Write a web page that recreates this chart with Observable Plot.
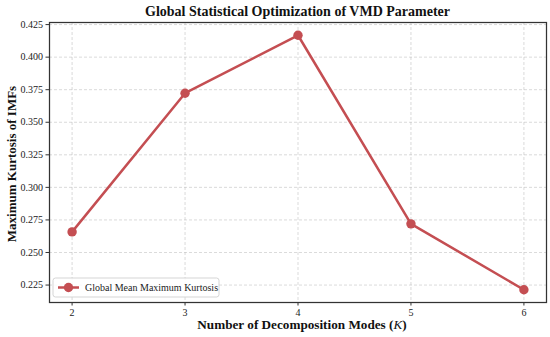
<!DOCTYPE html>
<html>
<head>
<meta charset="utf-8">
<script src="https://cdn.jsdelivr.net/npm/d3@7"></script>
<script src="https://cdn.jsdelivr.net/npm/@observablehq/plot@0.6"></script>
<style>
  html, body { margin: 0; padding: 0; background: #fff; }
  #chart svg { display: block; }
</style>
</head>
<body>
<div id="chart"></div>
<script>
const modes = [2, 3, 4, 5, 6];
const kurtosis = [0.2658, 0.3723, 0.4168, 0.2720, 0.2214];
const yTicks = [0.225, 0.250, 0.275, 0.300, 0.325, 0.350, 0.375, 0.400, 0.425];
const titleText = "Global Statistical Optimization of VMD Parameter";
const yLabel = "Maximum Kurtosis of IMFs";
const xLabelMain = "Number of Decomposition Modes (";
const xLabelVar = "K";
const xLabelEnd = ")";
const legendLabel = "Global Mean Maximum Kurtosis";

const data = modes.map((k, i) => ({k, v: kurtosis[i]}));
const red = "#c44e52";
const font = "'Liberation Serif', 'DejaVu Serif', serif";

const W = 550, H = 337;
const mL = 49, mR = 4, mT = 22, mB = 35;

const chart = Plot.plot({
  width: W,
  height: H,
  marginLeft: mL,
  marginRight: mR,
  marginTop: mT,
  marginBottom: mB,
  style: {fontFamily: font, fontSize: "10px", color: "#222", background: "#fff"},
  x: {domain: [1.8, 6.2]},
  y: {domain: [0.2116, 0.4266]},
  marks: [
    Plot.gridX(modes, {stroke: "#b0b0b0", strokeOpacity: 0.6, strokeDasharray: "3,2", strokeWidth: 0.8}),
    Plot.gridY(yTicks, {stroke: "#b0b0b0", strokeOpacity: 0.6, strokeDasharray: "3,2", strokeWidth: 0.8}),
    Plot.axisX(modes, {tickSize: 3.5, tickPadding: 3, label: null, fontSize: 10, stroke: "#333", tickFormat: d3.format("d")}),
    Plot.axisY(yTicks, {tickSize: 3.5, tickPadding: 3, label: null, fontSize: 10, stroke: "#333", tickFormat: d3.format(".3f")}),
    Plot.line(data, {x: "k", y: "v", stroke: red, strokeWidth: 2.5}),
    Plot.dot(data, {x: "k", y: "v", fill: red, r: 4.7}),
    Plot.frame({stroke: "#333", strokeWidth: 1.25})
  ]
});

document.getElementById("chart").appendChild(chart);

const svg = d3.select(chart);

// Title
svg.append("text")
  .attr("x", 297.5)
  .attr("y", 16)
  .attr("text-anchor", "middle")
  .attr("font-family", font)
  .attr("font-weight", "bold")
  .attr("font-size", "14px")
  .attr("fill", "#111")
  .text(titleText);

// Y label
svg.append("text")
  .attr("transform", `translate(13, 164) rotate(-90)`)
  .attr("text-anchor", "middle")
  .attr("font-family", font)
  .attr("font-weight", "bold")
  .attr("font-size", "13px")
  .attr("fill", "#111")
  .attr("dominant-baseline", "middle")
  .text(yLabel);

// X label
const xl = svg.append("text")
  .attr("x", 302)
  .attr("y", 329)
  .attr("text-anchor", "middle")
  .attr("font-family", font)
  .attr("font-weight", "bold")
  .attr("font-size", "13.2px")
  .attr("fill", "#111");
xl.append("tspan").text(xLabelMain);
xl.append("tspan").attr("font-style", "italic").attr("font-weight", "normal").text(xLabelVar);
xl.append("tspan").text(xLabelEnd);

// Legend
const lg = svg.append("g").attr("transform", `translate(${mL + 4}, ${H - mB - 24})`);
lg.append("rect")
  .attr("width", 166).attr("height", 19).attr("rx", 2.5)
  .attr("fill", "#fff").attr("fill-opacity", 0.85)
  .attr("stroke", "#d0d0d0").attr("stroke-width", 0.9);
lg.append("line").attr("x1", 5).attr("x2", 26).attr("y1", 9.5).attr("y2", 9.5)
  .attr("stroke", red).attr("stroke-width", 2.5);
lg.append("circle").attr("cx", 15.5).attr("cy", 9.5).attr("r", 4.7).attr("fill", red);
lg.append("text").attr("x", 32).attr("y", 9.5)
  .attr("text-anchor", "start")
  .attr("dominant-baseline", "central")
  .attr("font-family", font).attr("font-size", "10px").attr("fill", "#222")
  .text(legendLabel);
</script>
</body>
</html>
